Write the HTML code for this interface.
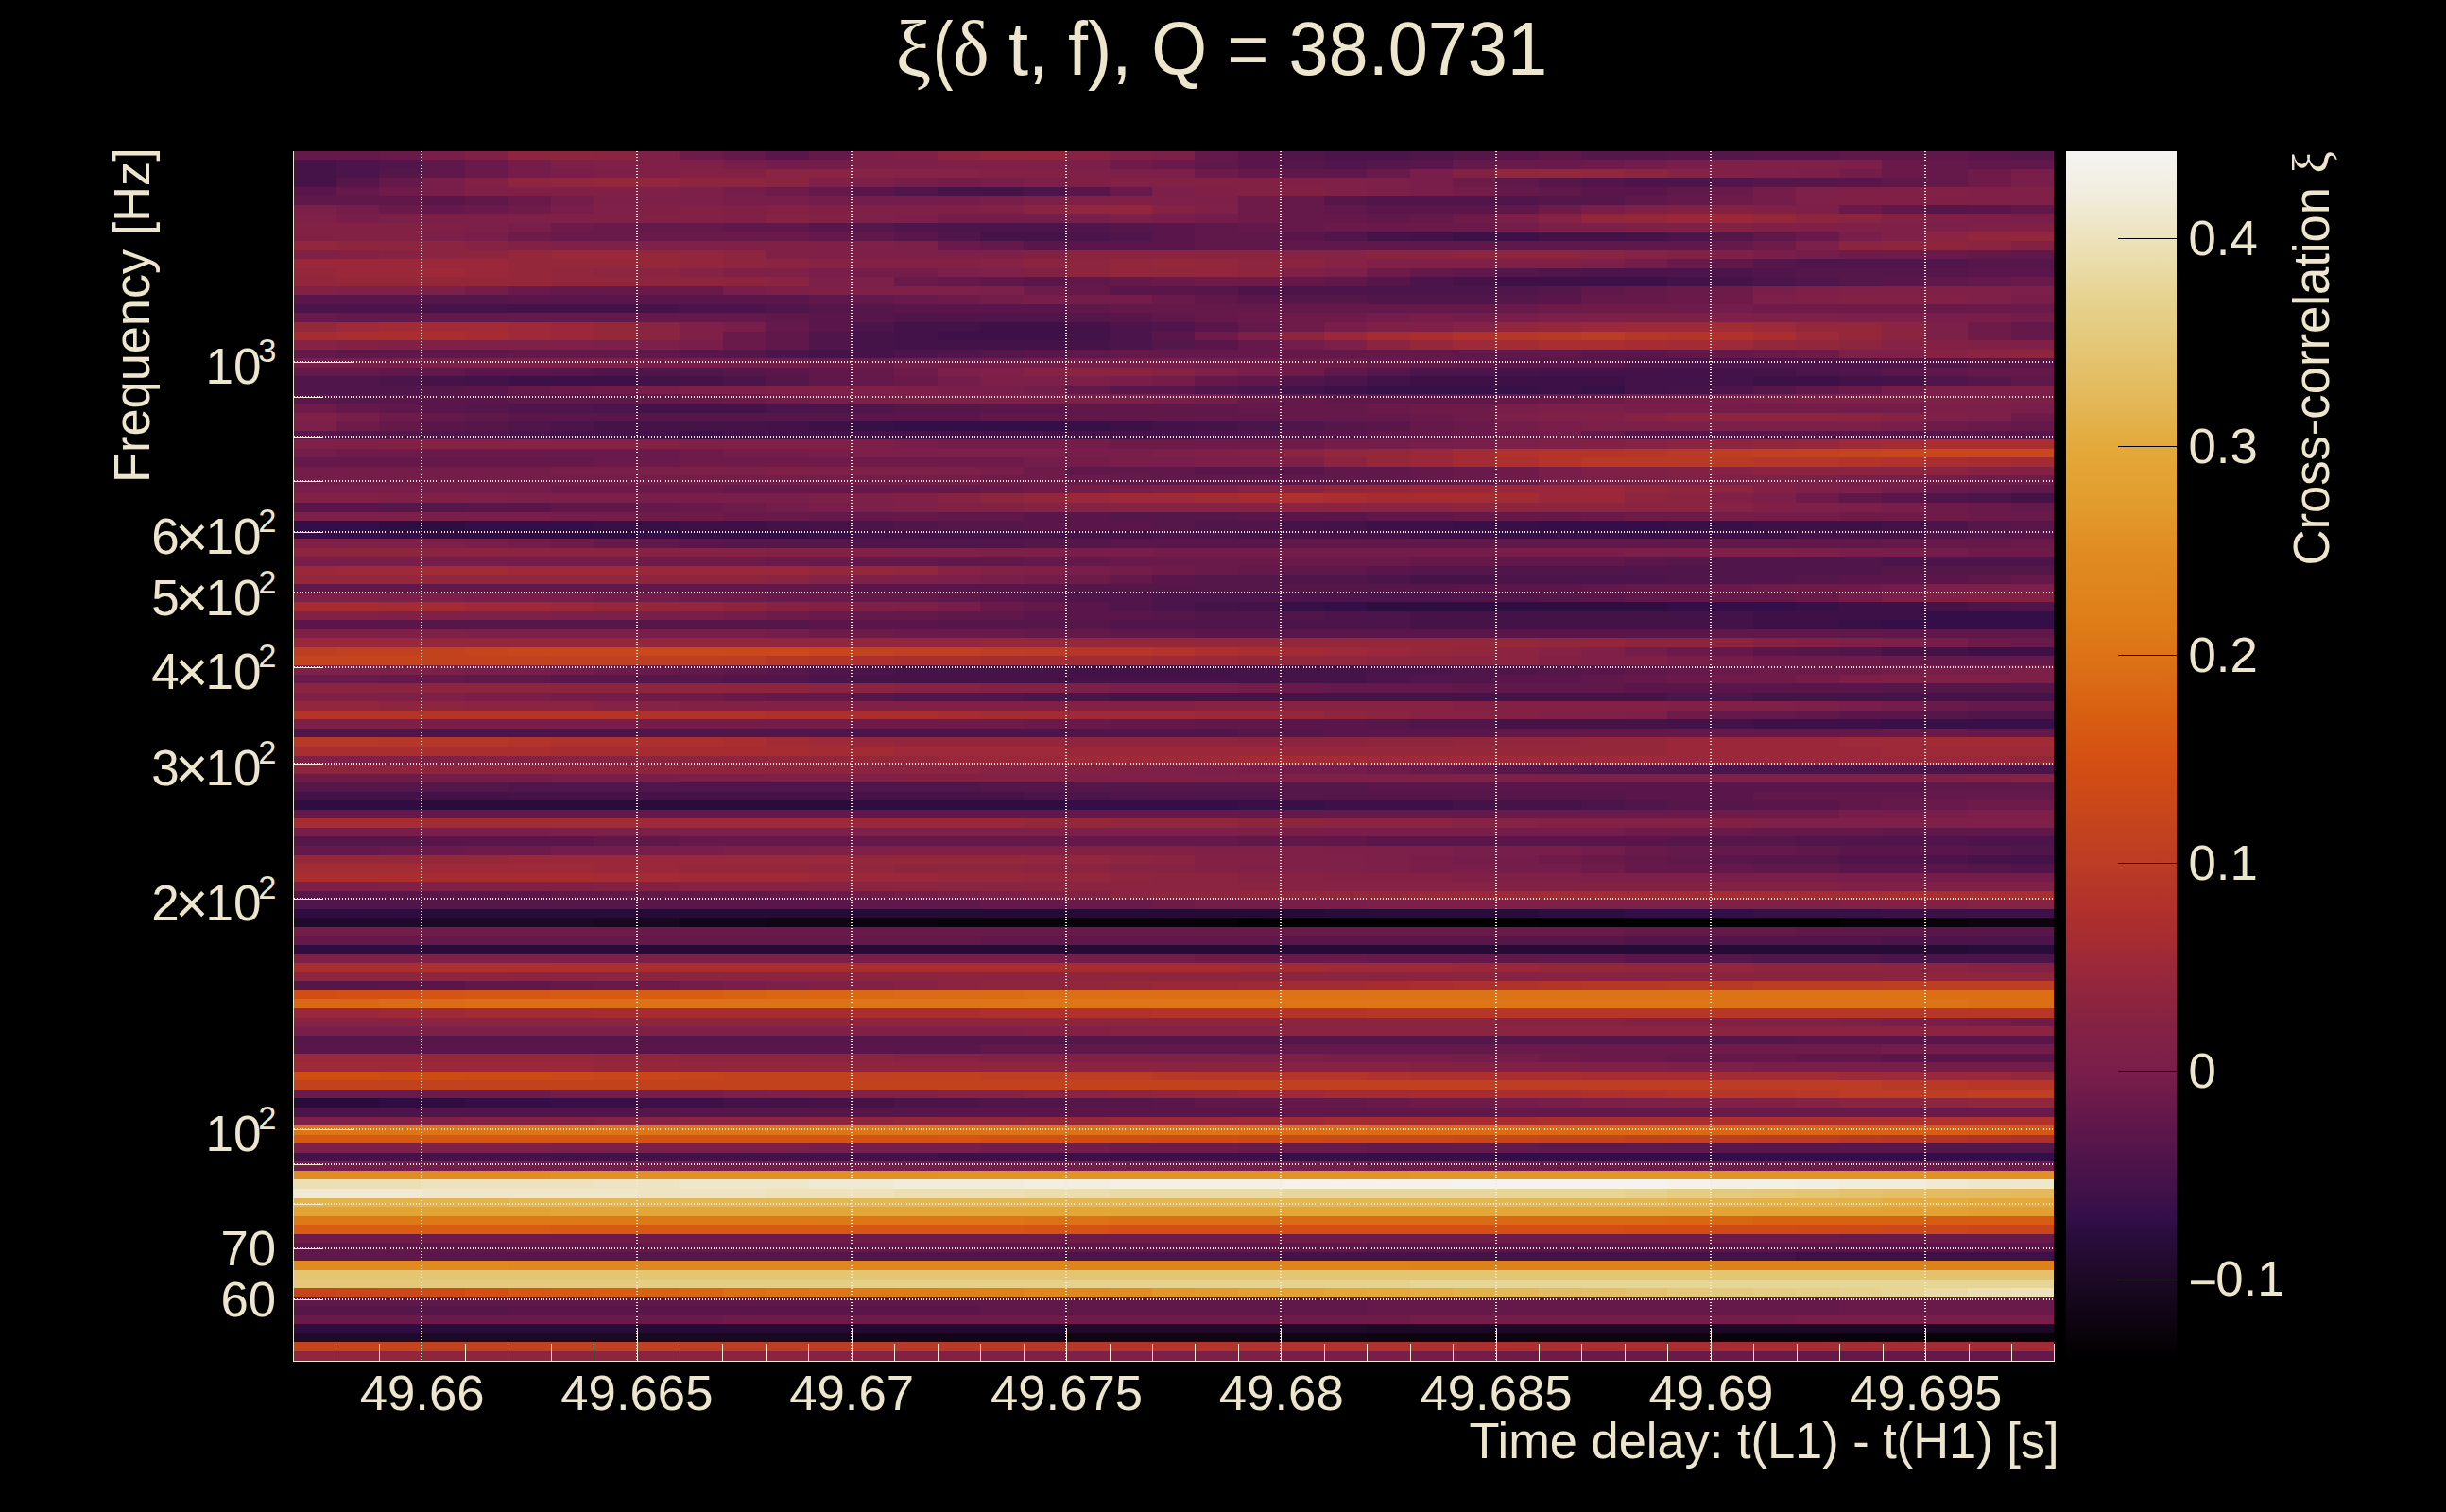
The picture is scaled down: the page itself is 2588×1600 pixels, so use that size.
<!DOCTYPE html><html><head><meta charset="utf-8"><title>xi(dt,f)</title>
<style>html,body{margin:0;padding:0;background:#000;}body{width:2588px;height:1600px;overflow:hidden;}svg{display:block;}text{font-family:"Liberation Sans",sans-serif;fill:#ede6cc;}.s{font-family:"Liberation Serif",serif;}</style></head><body>
<svg width="2588" height="1600" viewBox="0 0 2588 1600">
<rect width="2588" height="1600" fill="#000"/>
<g shape-rendering="crispEdges">
<path fill="#65184a" d="M310 160h91v9h-91zM765 160h45v9h-45zM856 160h45v9h-45zM1264 160h46v9h-46zM1537 169h45v10h-45zM2037 169h45v10h-45zM1310 179h45v9h-45zM2037 179h45v9h-45zM401 188h46v10h-46zM2037 188h45v10h-45zM356 198h45v9h-45zM856 198h45v9h-45zM1582 198h46v9h-46zM1355 207h46v10h-46zM1764 207h46v10h-46zM447 217h45v9h-45zM1355 217h46v9h-46zM1355 226h91v10h-91zM1492 226h45v10h-45zM674 236h91v9h-91zM1310 236h91v9h-91zM856 245h45v10h-45zM1037 255h46v10h-46zM1810 255h45v10h-45zM2082 265h46v9h-46zM1492 284h45v9h-45zM992 293h45v10h-45zM1174 293h45v10h-45zM1355 293h46v10h-46zM2082 293h46v10h-46zM583 303h91v9h-91zM1128 303h46v9h-46zM1719 303h45v9h-45zM901 312h45v10h-45zM1673 312h91v10h-91zM1174 322h408v9h-408zM356 331h454v10h-454zM1264 331h46v10h-46zM810 341h46v10h-46zM1310 341h45v10h-45zM2128 341h45v10h-45zM2128 351h45v9h-45zM1310 360h45v10h-45zM310 370h46v9h-46zM538 370h136v9h-136zM1174 370h363v9h-363zM1810 370h45v9h-45zM1492 379h45v10h-45zM310 389h91v9h-91zM901 389h45v9h-45zM2082 389h91v9h-91zM901 398h45v10h-45zM1264 398h46v10h-46zM538 408h45v9h-45zM1128 408h46v9h-46zM674 417h45v10h-45zM1355 417h46v10h-46zM1582 417h46v10h-46zM356 427h45v10h-45zM1310 427h136v10h-136zM447 437h45v9h-45zM1355 437h137v9h-137zM401 446h46v10h-46zM1492 446h45v10h-45zM2128 446h45v10h-45zM1492 456h45v9h-45zM1673 456h46v9h-46zM310 484h318v10h-318zM1492 494h45v9h-45zM1174 503h45v10h-45zM1492 503h45v10h-45zM765 513h272v9h-272zM2082 513h46v9h-46zM674 532h45v10h-45zM2128 532h45v10h-45zM856 542h136v9h-136zM1537 542h136v9h-136zM628 570h46v10h-46zM1991 570h137v10h-137zM901 589h91v10h-91zM1083 589h91v10h-91zM1492 589h90v10h-90zM1310 599h45v9h-45zM1174 608h45v10h-45zM2128 608h45v10h-45zM1719 618h91v10h-91zM901 628h91v9h-91zM1810 628h90v9h-90zM1083 637h45v10h-45zM901 647h91v9h-91zM1083 666h91v9h-91zM1810 685h45v9h-45zM2037 694h136v10h-136zM719 704h46v10h-46zM1764 704h46v10h-46zM401 714h91v9h-91zM1719 714h45v9h-45zM1401 723h136v10h-136zM810 733h91v9h-91zM2082 742h91v10h-91zM1810 752h90v9h-90zM1174 761h90v10h-90zM1582 771h409v9h-409zM2082 771h91v9h-91zM1537 809h45v10h-45zM2037 838h136v9h-136zM1991 847h46v10h-46zM310 857h591v9h-591zM1128 857h454v9h-454zM1855 876h136v9h-136zM719 885h591v10h-591zM310 895h91v10h-91zM1764 895h136v10h-136zM1719 905h45v9h-45zM1719 914h136v10h-136zM810 943h46v9h-46zM1037 952h91v10h-91zM1719 981h181v10h-181zM310 991h727v9h-727zM1446 1010h136v9h-136zM583 1038h45v10h-45zM1355 1105h227v10h-227zM1764 1115h136v9h-136zM1355 1162h91v10h-91zM1582 1172h228v10h-228zM1446 1210h182v10h-182zM538 1315h499v10h-499zM1446 1373h500v9h-500zM1446 1382h500v10h-500zM1900 1430h273v10h-273z"/>
<path fill="#6a1a4a" d="M401 160h46v9h-46zM492 169h46v10h-46zM1219 169h45v10h-45zM1582 169h91v10h-91zM1991 169h46v10h-46zM492 179h46v9h-46zM1446 179h46v9h-46zM1991 179h46v9h-46zM1174 198h45v9h-45zM1810 198h45v9h-45zM538 207h45v10h-45zM401 217h46v9h-46zM492 217h46v9h-46zM1946 217h45v9h-45zM628 236h46v9h-46zM1401 236h181v9h-181zM583 245h273v10h-273zM1900 245h46v10h-46zM992 255h45v10h-45zM2037 265h45v9h-45zM1764 274h46v10h-46zM946 293h46v10h-46zM1219 293h45v10h-45zM2128 293h45v10h-45zM538 303h45v9h-45zM674 303h91v9h-91zM1764 303h46v9h-46zM946 312h46v10h-46zM1219 312h45v10h-45zM1764 312h46v10h-46zM1582 322h46v9h-46zM2037 322h136v9h-136zM310 331h46v10h-46zM1310 331h45v10h-45zM765 351h45v9h-45zM765 360h45v10h-45zM1855 370h45v9h-45zM1446 379h46v10h-46zM946 398h46v10h-46zM583 408h45v9h-45zM1946 408h45v9h-45zM719 417h46v10h-46zM1310 417h45v10h-45zM1628 417h45v10h-45zM1446 427h46v10h-46zM1492 437h45v9h-45zM1537 446h45v10h-45zM2082 446h46v10h-46zM1537 456h45v9h-45zM447 475h272v9h-272zM628 484h91v10h-91zM1537 494h45v9h-45zM1128 503h46v10h-46zM1537 503h45v10h-45zM674 513h91v9h-91zM1037 513h46v9h-46zM2037 513h45v9h-45zM719 532h46v10h-46zM2082 532h46v10h-46zM765 542h91v9h-91zM1673 542h46v9h-46zM2082 542h91v9h-91zM2128 570h45v10h-45zM810 589h91v10h-91zM1174 589h318v10h-318zM1264 599h46v9h-46zM1810 618h45v10h-45zM810 628h91v9h-91zM1900 628h46v9h-46zM1037 637h46v10h-46zM856 647h45v9h-45zM946 666h137v9h-137zM2128 675h45v10h-45zM1764 685h46v9h-46zM1991 694h46v10h-46zM674 704h45v10h-45zM1810 704h45v10h-45zM310 714h91v9h-91zM1764 714h46v9h-46zM1355 723h46v10h-46zM765 733h45v9h-45zM2037 742h45v10h-45zM1083 761h91v10h-91zM1991 771h91v9h-91zM1492 809h45v10h-45zM2037 847h45v10h-45zM1582 857h228v9h-228zM1810 876h45v9h-45zM401 895h91v10h-91zM1719 895h45v10h-45zM1673 905h46v9h-46zM856 943h45v9h-45zM1128 952h91v10h-91zM674 981h1045v10h-1045zM1355 1010h91v9h-91zM628 1038h46v10h-46zM1582 1105h228v10h-228zM1673 1115h91v9h-91zM310 1153h137v9h-137zM1446 1162h46v10h-46zM1810 1172h363v10h-363zM1310 1210h136v10h-136zM1946 1306h227v9h-227zM1946 1373h227v9h-227zM1946 1382h227v10h-227zM310 1392h455v9h-455zM1673 1430h227v10h-227z"/>
<path fill="#791e4a" d="M447 160h45v9h-45zM765 169h45v10h-45zM1764 169h46v10h-46zM583 179h45v9h-45zM1492 179h45v9h-45zM2128 179h45v9h-45zM447 188h45v10h-45zM946 188h46v10h-46zM1037 188h46v10h-46zM1492 188h45v10h-45zM2128 188h45v10h-45zM447 198h45v9h-45zM1492 198h45v9h-45zM765 207h91v10h-91zM1037 207h46v10h-46zM583 217h45v9h-45zM1673 217h46v9h-46zM356 226h45v10h-45zM1128 226h46v10h-46zM1219 226h45v10h-45zM2128 226h45v10h-45zM538 236h45v9h-45zM492 245h46v10h-46zM1946 245h45v10h-45zM1855 265h45v9h-45zM856 284h45v9h-45zM765 303h45v9h-45zM1855 303h45v9h-45zM1083 312h45v10h-45zM2128 312h45v10h-45zM1492 331h45v10h-45zM1582 331h46v10h-46zM2037 331h91v10h-91zM765 341h45v10h-45zM1401 341h45v10h-45zM719 360h46v10h-46zM310 379h137v10h-137zM674 379h91v10h-91zM1128 379h136v10h-136zM1310 389h45v9h-45zM1174 398h45v10h-45zM674 408h45v9h-45zM992 408h91v9h-91zM856 417h45v10h-45zM1219 417h45v10h-45zM1810 417h45v10h-45zM1582 427h46v10h-46zM1719 427h91v10h-91zM2128 427h45v10h-45zM356 437h45v9h-45zM1628 446h45v10h-45zM1991 446h46v10h-46zM946 465h46v10h-46zM1492 465h90v10h-90zM856 475h45v9h-45zM1128 475h91v9h-91zM1174 484h90v10h-90zM583 494h91v9h-91zM1037 494h46v9h-46zM1628 494h45v9h-45zM1628 503h45v10h-45zM1946 503h91v10h-91zM310 513h137v9h-137zM1174 513h45v9h-45zM674 522h182v10h-182zM856 532h45v10h-45zM1991 532h46v10h-46zM447 542h136v9h-136zM492 570h46v10h-46zM1128 580h91v9h-91zM1582 580h137v9h-137zM1946 580h91v9h-91zM310 589h137v10h-137zM1128 599h46v9h-46zM1037 608h46v10h-46zM492 628h136v9h-136zM992 637h45v10h-45zM674 647h91v9h-91zM674 666h136v9h-136zM2037 675h45v10h-45zM1764 694h46v10h-46zM492 704h91v10h-91zM2037 704h91v10h-91zM1174 723h136v10h-136zM492 733h91v9h-91zM1946 742h45v10h-45zM447 761h227v10h-227zM1310 809h45v10h-45zM583 819h136v9h-136zM1946 857h136v9h-136zM310 876h273v9h-273zM1355 876h227v9h-227zM674 895h91v10h-91zM1537 895h136v10h-136zM1492 905h45v9h-45zM1492 914h90v10h-90zM1810 924h227v9h-227zM992 943h45v9h-45zM1355 952h91v10h-91zM901 1010h227v9h-227zM765 1038h45v10h-45zM1991 1077h91v9h-91zM310 1086h137v10h-137zM1401 1115h136v9h-136zM1855 1124h182v10h-182zM674 1153h91v9h-91zM1628 1162h45v10h-45zM856 1210h181v10h-181zM1900 1392h273v9h-273zM1355 1430h137v10h-137z"/>
<path fill="#802046" d="M492 160h46v9h-46zM946 160h46v9h-46zM674 169h45v10h-45zM1037 169h46v10h-46zM674 179h45v9h-45zM1810 179h45v9h-45zM856 188h45v10h-45zM1128 188h46v10h-46zM1355 188h46v10h-46zM538 198h136v9h-136zM1264 198h46v9h-46zM1946 198h91v9h-91zM2082 198h91v9h-91zM1174 207h45v10h-45zM1946 207h136v10h-136zM674 217h45v9h-45zM765 217h45v9h-45zM856 217h45v9h-45zM992 217h45v9h-45zM1855 217h45v9h-45zM628 226h46v10h-46zM765 226h45v10h-45zM447 236h45v9h-45zM1764 236h46v9h-46zM1855 236h91v9h-91zM2128 236h45v9h-45zM583 255h45v10h-45zM765 255h136v10h-136zM810 265h46v9h-46zM1810 265h45v9h-45zM1446 274h227v10h-227zM765 284h45v9h-45zM1355 284h46v9h-46zM356 303h45v9h-45zM1991 303h91v9h-91zM1900 312h46v10h-46zM1492 341h45v10h-45zM401 360h46v10h-46zM2082 360h46v10h-46zM1673 437h46v9h-46zM356 465h45v10h-45zM719 465h182v10h-182zM1264 475h46v9h-46zM810 494h46v9h-46zM1719 494h45v9h-45zM1264 513h46v9h-46zM401 522h91v10h-91zM946 522h46v10h-46zM1810 522h45v10h-45zM1855 532h45v10h-45zM310 570h46v10h-46zM901 580h45v9h-45zM1083 599h45v9h-45zM901 608h45v10h-45zM2037 628h45v9h-45zM401 647h91v9h-91zM310 666h91v9h-91zM1673 694h46v10h-46zM901 742h227v10h-227zM1764 742h91v10h-91zM1628 752h45v9h-45zM401 800h91v9h-91zM1174 809h45v10h-45zM901 819h45v9h-45zM1128 819h227v9h-227zM1991 819h91v9h-91zM946 895h182v10h-182zM1355 905h46v9h-46zM1310 914h45v10h-45zM1537 924h45v9h-45zM492 933h136v10h-136zM1946 933h91v10h-91zM1083 943h45v9h-45zM1810 952h136v10h-136zM856 1038h45v10h-45zM1810 1077h45v9h-45zM901 1086h182v10h-182zM1128 1115h91v9h-91zM1582 1124h91v10h-91zM856 1153h45v9h-45zM1810 1162h45v10h-45zM401 1182h91v9h-91zM1037 1430h91v10h-91z"/>
<path fill="#8e253f" d="M538 160h90v9h-90zM1719 179h45v9h-45zM538 188h45v10h-45zM719 188h91v10h-91zM1900 226h46v10h-46zM356 255h91v10h-91zM1991 255h91v10h-91zM492 265h46v9h-46zM765 265h45v9h-45zM1537 265h136v9h-136zM765 274h45v10h-45zM1128 274h46v10h-46zM1310 274h45v10h-45zM628 284h46v9h-46zM1128 284h46v9h-46zM1310 284h45v9h-45zM674 293h136v10h-136zM1355 351h46v9h-46zM1946 360h45v10h-45zM2128 370h45v9h-45zM1810 437h136v9h-136zM1810 465h45v10h-45zM1764 513h91v9h-91zM1037 522h46v10h-46zM1719 522h45v10h-45zM1537 532h182v10h-182zM310 580h137v9h-137zM674 608h136v10h-136zM765 637h45v10h-45zM1719 675h136v10h-136zM1446 694h91v10h-91zM447 723h409v10h-409zM401 742h91v10h-91zM1401 752h45v9h-45zM1128 780h182v10h-182zM1446 780h91v10h-91zM765 800h45v9h-45zM310 809h591v10h-591zM1310 866h91v10h-91zM1174 905h45v9h-45zM946 914h137v10h-137zM1174 924h45v9h-45zM1219 943h91v9h-91zM1855 1019h136v10h-136zM310 1029h228v9h-228zM1128 1029h227v9h-227zM2037 1029h136v9h-136zM1037 1038h91v10h-91zM674 1077h681v9h-681zM719 1115h137v9h-137zM901 1124h227v10h-227zM1174 1153h45v9h-45zM2037 1162h45v10h-45zM856 1182h90v9h-90zM447 1430h227v10h-227z"/>
<path fill="#8a2441" d="M628 160h46v9h-46zM992 160h45v9h-45zM810 179h91v9h-91zM810 188h46v10h-46zM1083 217h45v9h-45zM1946 226h45v10h-45zM2037 245h45v10h-45zM447 255h45v10h-45zM1946 255h45v10h-45zM2082 255h46v10h-46zM447 265h45v9h-45zM1128 265h227v9h-227zM1446 265h91v9h-91zM1673 265h46v9h-46zM810 274h46v10h-46zM1083 274h45v10h-45zM1355 274h46v10h-46zM674 284h45v9h-45zM810 293h46v10h-46zM674 341h45v10h-45zM1991 341h46v10h-46zM674 351h45v9h-45zM1991 351h46v9h-46zM1446 360h46v10h-46zM2082 370h46v9h-46zM1128 389h91v9h-91zM1764 437h46v9h-46zM1946 437h45v9h-45zM1764 465h46v10h-46zM1355 475h46v9h-46zM1401 484h45v10h-45zM1855 494h227v9h-227zM1355 513h46v9h-46zM1764 522h46v10h-46zM1355 532h182v10h-182zM1719 532h91v10h-91zM447 580h227v9h-227zM810 608h46v10h-46zM1582 685h46v9h-46zM1537 694h91v10h-91zM310 723h137v10h-137zM856 723h90v10h-90zM492 742h136v10h-136zM1446 752h46v9h-46zM1310 780h136v10h-136zM674 800h91v9h-91zM901 809h136v10h-136zM1401 866h136v10h-136zM1219 905h45v9h-45zM1083 914h91v10h-91zM1219 924h91v9h-91zM901 933h454v10h-454zM1174 943h45v9h-45zM1991 1019h91v10h-91zM538 1029h590v9h-590zM1355 1029h227v9h-227zM1810 1029h227v9h-227zM992 1038h45v10h-45zM447 1077h227v9h-227zM1355 1077h227v9h-227zM1355 1086h818v10h-818zM856 1115h90v9h-90zM1128 1124h227v10h-227zM1083 1153h91v9h-91zM1946 1162h91v10h-91zM719 1182h137v9h-137zM674 1430h182v10h-182z"/>
<path fill="#7e2048" d="M674 160h45v9h-45zM1174 160h45v9h-45zM628 169h46v10h-46zM719 169h46v10h-46zM992 169h45v10h-45zM1083 169h45v10h-45zM1810 169h136v10h-136zM1128 179h46v9h-46zM1855 179h45v9h-45zM1401 188h45v10h-45zM492 198h46v9h-46zM674 198h45v9h-45zM1401 198h45v9h-45zM1900 198h46v9h-46zM1128 207h46v10h-46zM1219 207h45v10h-45zM1900 207h46v10h-46zM2082 207h91v10h-91zM628 217h46v9h-46zM901 217h91v9h-91zM1264 217h46v9h-46zM1719 217h45v9h-45zM310 226h46v10h-46zM538 226h90v10h-90zM901 226h45v10h-45zM2037 226h45v10h-45zM1719 236h45v9h-45zM1946 236h91v9h-91zM2082 236h46v9h-46zM1991 245h46v10h-46zM628 255h137v10h-137zM901 255h45v10h-45zM310 265h46v9h-46zM856 265h45v9h-45zM1037 265h46v9h-46zM810 284h46v9h-46zM1037 284h46v9h-46zM401 303h46v9h-46zM856 303h181v9h-181zM1946 303h45v9h-45zM2082 303h46v9h-46zM2082 312h46v10h-46zM1810 331h136v10h-136zM719 341h46v10h-46zM1446 341h46v10h-46zM719 351h46v9h-46zM447 360h181v10h-181zM2128 360h45v10h-45zM1991 370h46v9h-46zM1037 389h46v9h-46zM1264 389h46v9h-46zM810 408h136v9h-136zM946 417h182v10h-182zM1900 417h228v10h-228zM310 437h46v9h-46zM1628 437h45v9h-45zM2037 437h45v9h-45zM310 465h46v10h-46zM1628 465h45v10h-45zM1355 484h46v10h-46zM856 494h136v9h-136zM1673 494h46v9h-46zM1764 503h136v10h-136zM1900 513h46v9h-46zM492 522h46v10h-46zM946 532h46v10h-46zM1900 532h46v10h-46zM356 570h91v10h-91zM946 580h91v9h-91zM1810 580h90v9h-90zM946 608h46v10h-46zM310 628h91v9h-91zM901 637h45v10h-45zM492 647h91v9h-91zM401 666h91v9h-91zM1946 675h45v10h-45zM1673 685h46v9h-46zM1719 694h45v10h-45zM310 704h91v10h-91zM1991 714h137v9h-137zM310 733h91v9h-91zM1855 742h45v10h-45zM1673 752h46v9h-46zM310 800h91v9h-91zM1219 809h45v10h-45zM810 819h91v9h-91zM1355 819h227v9h-227zM1810 819h181v9h-181zM1855 866h318v10h-318zM901 876h227v9h-227zM856 895h90v10h-90zM1264 895h137v10h-137zM1401 905h45v9h-45zM1355 914h91v10h-91zM1582 924h91v9h-91zM401 933h91v10h-91zM2037 933h136v10h-136zM1582 952h228v10h-228zM310 1010h273v9h-273zM1855 1077h91v9h-91zM674 1086h227v10h-227zM1219 1115h91v9h-91zM1673 1124h91v10h-91zM810 1153h46v9h-46zM1719 1162h91v10h-91zM310 1182h91v9h-91zM310 1210h273v10h-273zM1128 1430h91v10h-91z"/>
<path fill="#6f1b4a" d="M719 160h46v9h-46zM1174 169h45v10h-45zM1673 169h46v10h-46zM1264 179h46v9h-46zM2082 179h46v9h-46zM1537 188h45v10h-45zM2082 188h46v10h-46zM401 198h46v9h-46zM810 198h46v9h-46zM1310 207h45v10h-45zM1810 207h45v10h-45zM538 217h45v9h-45zM1310 217h45v9h-45zM1628 217h45v9h-45zM1310 226h45v10h-45zM1537 226h45v10h-45zM583 236h45v9h-45zM538 245h45v10h-45zM1855 255h45v10h-45zM1946 265h91v9h-91zM1446 284h46v9h-46zM1264 293h91v10h-91zM1083 303h45v9h-45zM1810 303h45v9h-45zM992 312h45v10h-45zM1810 312h45v10h-45zM1628 322h182v9h-182zM1855 322h182v9h-182zM1355 331h91v10h-91zM1355 341h46v10h-46zM2082 341h46v10h-46zM1264 351h46v9h-46zM2082 351h46v9h-46zM1900 370h46v9h-46zM856 379h90v10h-90zM1355 379h91v10h-91zM946 389h46v9h-46zM1355 389h46v9h-46zM628 408h46v9h-46zM765 417h45v10h-45zM1673 417h46v10h-46zM310 427h46v10h-46zM1492 427h90v10h-90zM401 437h46v9h-46zM1537 437h45v9h-45zM2128 437h45v9h-45zM356 446h45v10h-45zM2037 446h45v10h-45zM1582 456h46v9h-46zM1174 465h227v10h-227zM356 475h91v9h-91zM719 475h46v9h-46zM719 484h364v10h-364zM1083 494h45v9h-45zM1582 494h46v9h-46zM1037 503h91v10h-91zM1582 503h46v10h-46zM2082 503h91v10h-91zM583 513h91v9h-91zM1083 513h45v9h-45zM1900 522h46v10h-46zM765 532h45v10h-45zM2037 532h45v10h-45zM674 542h91v9h-91zM1719 542h91v9h-91zM1946 542h136v9h-136zM583 570h45v10h-45zM2082 580h91v9h-91zM674 589h136v10h-136zM1219 599h45v9h-45zM1128 608h46v10h-46zM1855 618h136v10h-136zM719 628h91v9h-91zM810 647h46v9h-46zM856 666h90v9h-90zM2082 675h46v10h-46zM1855 694h136v10h-136zM628 704h46v10h-46zM1855 704h136v10h-136zM1810 714h90v9h-90zM674 733h91v9h-91zM1764 752h46v9h-46zM901 761h182v10h-182zM1446 809h46v10h-46zM310 819h137v9h-137zM2082 847h91v10h-91zM1810 857h136v9h-136zM1719 876h91v9h-91zM492 895h91v10h-91zM1628 905h45v9h-45zM1673 914h46v10h-46zM901 943h45v9h-45zM1219 952h45v10h-45zM447 981h227v10h-227zM1264 1010h91v9h-91zM674 1038h45v10h-45zM2128 1077h45v9h-45zM1810 1105h181v10h-181zM1628 1115h45v9h-45zM447 1153h136v9h-136zM1492 1162h90v10h-90zM1174 1210h136v10h-136zM1446 1229h727v10h-727zM310 1306h1636v9h-1636zM765 1392h727v9h-727zM1582 1430h91v10h-91z"/>
<path fill="#5a164a" d="M810 160h46v9h-46zM1310 160h45v9h-45zM1582 160h46v9h-46zM1764 160h46v9h-46zM1855 160h91v9h-91zM2082 160h46v9h-46zM1310 169h45v10h-45zM1492 169h45v10h-45zM1946 188h45v10h-45zM310 198h46v9h-46zM901 198h45v9h-45zM1128 198h46v9h-46zM1673 198h91v9h-91zM447 207h45v10h-45zM1446 217h136v9h-136zM2082 217h46v9h-46zM856 236h45v9h-45zM1219 236h45v9h-45zM946 245h46v10h-46zM1219 245h45v10h-45zM1355 245h46v10h-46zM1083 255h181v10h-181zM2082 284h91v9h-91zM1083 293h45v10h-45zM1991 293h46v10h-46zM1174 303h90v9h-90zM310 312h137v10h-137zM538 312h318v10h-318zM1310 312h45v10h-45zM1628 312h45v10h-45zM946 322h182v9h-182zM856 331h45v10h-45zM1174 331h45v10h-45zM856 341h45v10h-45zM1264 341h46v10h-46zM1219 351h45v9h-45zM1264 360h46v10h-46zM719 370h46v9h-46zM1083 370h45v9h-45zM1673 370h91v9h-91zM1582 379h137v10h-137zM2128 379h45v10h-45zM492 389h91v9h-91zM810 389h46v9h-46zM1991 389h46v9h-46zM492 408h46v9h-46zM1174 408h90v9h-90zM310 417h46v10h-46zM401 417h137v10h-137zM447 427h45v10h-45zM1037 427h91v10h-91zM538 437h136v9h-136zM901 437h136v9h-136zM447 446h45v10h-45zM1446 446h46v10h-46zM310 456h46v9h-46zM1401 456h45v9h-45zM1719 456h454v9h-454zM1264 494h137v9h-137zM1991 522h46v10h-46zM310 532h91v10h-91zM492 532h91v10h-91zM1083 542h91v9h-91zM1310 542h136v9h-136zM1083 551h136v10h-136zM2128 551h45v10h-45zM2128 561h45v9h-45zM719 570h46v10h-46zM1174 570h181v10h-181zM1719 589h45v10h-45zM1446 599h46v9h-46zM1219 608h45v10h-45zM1946 608h136v10h-136zM901 618h227v10h-227zM1537 618h136v10h-136zM1037 628h46v9h-46zM1673 628h46v9h-46zM1128 637h46v10h-46zM1083 647h136v9h-136zM310 656h137v10h-137zM856 656h136v10h-136zM1264 666h546v9h-546zM1855 685h45v9h-45zM810 704h46v10h-46zM1673 704h46v10h-46zM583 714h91v9h-91zM1582 714h91v9h-91zM1719 723h272v10h-272zM1946 752h91v9h-91zM1355 761h91v10h-91zM1401 771h181v9h-181zM1582 809h46v10h-46zM1446 828h591v10h-591zM1719 838h136v9h-136zM1855 847h91v10h-91zM447 885h181v10h-181zM1446 885h318v10h-318zM1946 895h136v10h-136zM1810 905h45v9h-45zM1946 914h136v10h-136zM310 943h273v9h-273zM674 952h227v10h-227zM2037 981h136v10h-136zM1355 991h227v9h-227zM1719 1010h91v9h-91zM401 1038h91v10h-91zM1900 1096h273v9h-273zM310 1105h727v10h-727zM1991 1115h182v9h-182zM1219 1162h45v10h-45zM992 1172h363v10h-363zM1810 1210h227v10h-227zM1446 1315h727v10h-727zM447 1325h227v9h-227zM538 1382h499v10h-499z"/>
<path fill="#7c1f49" d="M901 160h45v9h-45zM1219 160h45v9h-45zM583 169h45v10h-45zM901 169h91v10h-91zM1128 169h46v10h-46zM1946 169h45v10h-45zM628 179h46v9h-46zM1174 179h90v9h-90zM1900 179h46v9h-46zM901 188h45v10h-45zM1083 188h45v10h-45zM1446 188h46v10h-46zM719 198h46v9h-46zM1219 198h45v9h-45zM1446 198h46v9h-46zM628 207h137v10h-137zM1083 207h45v10h-45zM1264 207h46v10h-46zM310 217h46v9h-46zM1900 217h46v9h-46zM401 226h137v10h-137zM946 226h46v10h-46zM1174 226h45v10h-45zM1582 226h46v10h-46zM2082 226h46v10h-46zM492 236h46v9h-46zM1628 236h91v9h-91zM2037 236h45v9h-45zM447 245h45v10h-45zM946 255h46v10h-46zM1900 255h46v10h-46zM901 265h136v9h-136zM1673 274h46v10h-46zM992 284h45v9h-45zM1401 284h45v9h-45zM856 293h90v10h-90zM447 303h45v9h-45zM810 303h46v9h-46zM1037 303h46v9h-46zM1900 303h46v9h-46zM2128 303h45v9h-45zM1855 312h45v10h-45zM1628 331h182v10h-182zM1946 331h91v10h-91zM2037 341h45v10h-45zM1310 351h45v9h-45zM2037 351h45v9h-45zM628 360h91v10h-91zM1401 360h45v10h-45zM1946 370h45v9h-45zM447 379h227v10h-227zM992 389h45v9h-45zM1037 398h137v10h-137zM719 408h91v9h-91zM946 408h46v9h-46zM2037 408h136v9h-136zM901 417h45v10h-45zM1128 417h91v10h-91zM1855 417h45v10h-45zM2128 417h45v10h-45zM1628 427h91v10h-91zM2037 427h91v10h-91zM1582 437h46v9h-46zM2082 437h46v9h-46zM310 446h46v10h-46zM1673 446h318v10h-318zM901 465h45v10h-45zM1582 465h46v10h-46zM901 475h227v9h-227zM1219 475h45v9h-45zM1264 484h91v10h-91zM674 494h136v9h-136zM992 494h45v9h-45zM1673 503h91v10h-91zM1900 503h46v10h-46zM1219 513h45v9h-45zM1946 513h45v9h-45zM538 522h136v10h-136zM856 522h90v10h-90zM1855 522h45v10h-45zM901 532h45v10h-45zM1946 532h45v10h-45zM310 542h137v9h-137zM447 570h45v10h-45zM1037 580h91v9h-91zM1719 580h91v9h-91zM1900 580h46v9h-46zM992 608h45v10h-45zM2037 618h136v10h-136zM401 628h91v9h-91zM1991 628h46v9h-46zM946 637h46v10h-46zM583 647h91v9h-91zM492 666h182v9h-182zM1991 675h46v10h-46zM401 704h91v10h-91zM2128 704h45v10h-45zM1946 714h45v9h-45zM2128 714h45v9h-45zM1128 723h46v10h-46zM401 733h91v9h-91zM1900 742h46v10h-46zM1719 752h45v9h-45zM310 761h137v10h-137zM1264 809h46v10h-46zM719 819h91v9h-91zM1582 819h228v9h-228zM2082 857h91v9h-91zM583 876h318v9h-318zM1128 876h227v9h-227zM765 895h91v10h-91zM1401 895h136v10h-136zM1446 905h46v9h-46zM1446 914h46v10h-46zM1673 924h137v9h-137zM310 933h91v10h-91zM1037 943h46v9h-46zM1446 952h136v10h-136zM583 1010h318v9h-318zM810 1038h46v10h-46zM1946 1077h45v9h-45zM447 1086h227v10h-227zM1310 1115h91v9h-91zM1764 1124h91v10h-91zM765 1153h45v9h-45zM1673 1162h46v10h-46zM583 1210h273v10h-273zM1219 1430h136v10h-136z"/>
<path fill="#91263d" d="M1037 160h91v9h-91zM1582 179h46v9h-46zM1673 179h46v9h-46zM583 188h45v10h-45zM674 188h45v10h-45zM1128 217h91v9h-91zM1673 226h46v10h-46zM2082 245h91v10h-91zM310 255h46v10h-46zM719 265h46v9h-46zM719 274h46v10h-46zM1174 274h45v10h-45zM1264 274h46v10h-46zM583 284h45v9h-45zM1174 284h136v9h-136zM310 293h46v10h-46zM583 293h91v10h-91zM1582 341h46v10h-46zM1900 360h46v10h-46zM1855 465h45v10h-45zM1401 475h45v9h-45zM1401 513h45v9h-45zM1719 513h45v9h-45zM1083 522h45v10h-45zM946 599h46v9h-46zM447 608h227v10h-227zM719 637h46v10h-46zM674 675h363v10h-363zM1628 675h91v10h-91zM1537 685h45v9h-45zM1355 694h91v10h-91zM310 742h91v10h-91zM946 780h182v10h-182zM1537 780h136v10h-136zM810 800h91v9h-91zM1174 866h136v10h-136zM1083 905h91v9h-91zM856 914h90v10h-90zM1083 924h91v9h-91zM1310 943h91v9h-91zM1719 1019h136v10h-136zM1128 1038h46v10h-46zM628 1115h91v9h-91zM719 1124h182v10h-182zM1219 1153h45v9h-45zM2082 1162h91v10h-91zM946 1182h137v9h-137zM310 1430h137v10h-137z"/>
<path fill="#862243" d="M1128 160h46v9h-46zM901 179h136v9h-136zM1764 179h46v9h-46zM1219 217h45v9h-45zM810 226h46v10h-46zM1628 226h45v10h-45zM492 255h46v10h-46zM401 265h46v9h-46zM1355 265h91v9h-91zM1719 265h45v9h-45zM856 274h45v10h-45zM1037 274h46v10h-46zM1401 274h45v10h-45zM719 284h46v9h-46zM1537 341h45v10h-45zM310 360h46v10h-46zM1991 360h46v10h-46zM2037 370h45v9h-45zM1083 389h45v9h-45zM1219 389h45v9h-45zM1719 437h45v9h-45zM1991 437h46v9h-46zM447 465h227v10h-227zM1719 465h45v10h-45zM1810 494h45v9h-45zM2082 494h46v9h-46zM1310 513h45v9h-45zM992 522h45v10h-45zM1083 532h272v10h-272zM1810 532h45v10h-45zM674 580h136v9h-136zM992 599h45v9h-45zM856 608h45v10h-45zM810 637h46v10h-46zM1855 675h45v10h-45zM1628 685h45v9h-45zM946 723h91v10h-91zM628 742h91v10h-91zM1264 742h273v10h-273zM1492 752h90v9h-90zM583 800h91v9h-91zM1037 809h91v10h-91zM2128 819h45v9h-45zM1537 866h91v10h-91zM1174 914h90v10h-90zM1310 924h91v9h-91zM719 933h182v10h-182zM1355 933h227v10h-227zM2082 952h91v10h-91zM2082 1019h46v10h-46zM1582 1029h228v9h-228zM946 1038h46v10h-46zM310 1077h137v9h-137zM1582 1077h137v9h-137zM1174 1086h181v10h-181zM946 1115h91v9h-91zM1355 1124h137v10h-137zM992 1153h91v9h-91zM1900 1162h46v10h-46zM628 1182h91v9h-91zM856 1430h90v10h-90z"/>
<path fill="#50154a" d="M1355 160h46v9h-46zM1492 160h45v9h-45zM401 169h46v10h-46zM1401 169h45v10h-45zM1673 188h46v10h-46zM1810 188h45v10h-45zM946 198h46v9h-46zM1446 207h182v10h-182zM946 236h46v9h-46zM1128 236h46v9h-46zM992 245h45v10h-45zM1174 245h45v10h-45zM1401 245h45v10h-45zM1900 274h182v10h-182zM1628 284h45v9h-45zM1855 284h45v9h-45zM1900 293h46v10h-46zM1582 303h46v9h-46zM1446 312h136v10h-136zM810 322h46v9h-46zM946 331h182v10h-182zM1219 341h45v10h-45zM856 351h45v9h-45zM856 360h45v10h-45zM992 370h45v9h-45zM1719 379h45v10h-45zM1991 379h91v10h-91zM628 389h137v9h-137zM1946 389h45v9h-45zM310 398h91v10h-91zM1355 398h46v10h-46zM2037 398h45v10h-45zM310 408h137v9h-137zM1264 408h46v9h-46zM538 427h90v10h-90zM901 427h45v10h-45zM538 446h45v10h-45zM1355 446h46v10h-46zM447 456h91v9h-91zM1310 456h45v9h-45zM2037 522h45v10h-45zM946 551h46v10h-46zM1264 551h91v10h-91zM2037 561h45v9h-45zM901 570h182v10h-182zM1810 589h181v10h-181zM1582 599h409v9h-409zM1355 608h91v10h-91zM1764 608h136v10h-136zM1128 628h91v9h-91zM1537 628h91v9h-91zM1174 637h45v10h-45zM2128 637h45v10h-45zM1264 647h137v9h-137zM1174 656h181v10h-181zM1946 685h45v9h-45zM856 704h45v10h-45zM1537 704h91v10h-91zM765 714h91v9h-91zM1492 714h90v9h-90zM946 733h137v9h-137zM2082 752h91v9h-91zM1492 761h90v10h-90zM310 771h137v9h-137zM674 771h227v9h-227zM1128 771h182v9h-182zM1673 809h137v10h-137zM538 828h499v10h-499zM1174 838h181v9h-181zM1719 847h45v10h-45zM1900 885h182v10h-182zM2128 895h45v10h-45zM1946 905h91v9h-91zM2128 914h45v10h-45zM310 952h137v10h-137zM1719 991h272v9h-272zM1855 1010h136v9h-136zM1037 1162h91v10h-91zM447 1172h227v10h-227zM901 1325h227v9h-227z"/>
<path fill="#4b144a" d="M1401 160h91v9h-91zM356 169h45v10h-45zM356 179h45v9h-45zM1719 188h91v10h-91zM1083 198h45v9h-45zM992 236h136v9h-136zM1128 245h46v10h-46zM1764 245h46v10h-46zM1673 284h182v9h-182zM1492 293h45v10h-45zM1855 293h45v10h-45zM1310 303h272v9h-272zM310 322h137v9h-137zM719 322h91v9h-91zM901 341h45v10h-45zM1174 341h45v10h-45zM1174 351h45v9h-45zM1174 360h45v10h-45zM810 370h46v9h-46zM946 370h46v9h-46zM1764 379h227v10h-227zM1492 389h90v9h-90zM1900 389h46v9h-46zM401 398h46v10h-46zM765 398h45v10h-45zM1401 398h45v10h-45zM1310 408h45v9h-45zM1810 408h45v9h-45zM628 427h46v10h-46zM810 427h91v10h-91zM583 446h45v10h-45zM1310 446h45v10h-45zM538 456h45v9h-45zM1264 456h46v9h-46zM2082 522h46v10h-46zM901 551h45v10h-45zM2037 551h45v10h-45zM1219 561h91v9h-91zM1991 589h182v10h-182zM1446 608h46v10h-46zM1582 608h182v10h-182zM1219 628h318v9h-318zM1219 637h45v10h-45zM2082 637h46v10h-46zM1401 647h91v9h-91zM1355 656h137v10h-137zM901 704h45v10h-45zM1446 704h91v10h-91zM856 714h45v9h-45zM1446 714h46v9h-46zM1083 733h91v9h-91zM1764 733h91v9h-91zM447 771h227v9h-227zM901 771h227v9h-227zM1810 809h363v10h-363zM1083 838h91v9h-91zM1673 847h46v10h-46zM2082 885h91v10h-91zM2037 905h45v9h-45zM1991 991h182v9h-182zM1991 1010h182v9h-182zM946 1162h91v10h-91zM310 1172h137v10h-137zM1128 1325h227v9h-227z"/>
<path fill="#55164a" d="M1537 160h45v9h-45zM1673 160h91v9h-91zM1810 160h45v9h-45zM2128 160h45v9h-45zM1355 169h46v10h-46zM1446 169h46v10h-46zM401 179h46v9h-46zM356 188h45v10h-45zM1628 188h45v10h-45zM1855 188h91v10h-91zM1401 207h45v10h-45zM1628 207h91v10h-91zM2037 217h45v9h-45zM901 236h45v9h-45zM1174 236h45v9h-45zM1810 245h45v10h-45zM1855 274h45v10h-45zM2082 274h91v10h-91zM1582 284h46v9h-46zM1900 284h182v9h-182zM1446 293h46v10h-46zM1946 293h45v10h-45zM1264 303h46v9h-46zM1628 303h45v9h-45zM447 312h91v10h-91zM1355 312h91v10h-91zM1582 312h46v10h-46zM856 322h90v9h-90zM901 331h45v10h-45zM1128 331h46v10h-46zM1219 360h45v10h-45zM765 370h45v9h-45zM1037 370h46v9h-46zM2082 379h46v10h-46zM583 389h45v9h-45zM765 389h45v9h-45zM1446 389h46v9h-46zM810 398h46v10h-46zM2082 398h46v10h-46zM447 408h45v9h-45zM1855 408h45v9h-45zM356 417h45v10h-45zM492 427h46v10h-46zM946 427h91v10h-91zM674 437h227v9h-227zM492 446h46v10h-46zM1401 446h45v10h-45zM356 456h91v9h-91zM1355 456h46v9h-46zM401 532h91v10h-91zM1174 542h136v9h-136zM992 551h91v10h-91zM1219 551h45v10h-45zM2082 551h46v10h-46zM2082 561h46v9h-46zM765 570h136v10h-136zM1083 570h91v10h-91zM1764 589h46v10h-46zM1492 599h90v9h-90zM1991 599h182v9h-182zM1264 608h91v10h-91zM1900 608h46v10h-46zM1128 618h409v10h-409zM1083 628h45v9h-45zM1628 628h45v9h-45zM1219 647h45v9h-45zM447 656h409v10h-409zM992 656h182v10h-182zM1900 685h46v9h-46zM1628 704h45v10h-45zM674 714h91v9h-91zM1991 723h182v10h-182zM901 733h45v9h-45zM2037 752h45v9h-45zM1446 761h46v10h-46zM1310 771h91v9h-91zM1628 809h45v10h-45zM310 828h228v10h-228zM1037 828h409v10h-409zM1355 838h364v9h-364zM1764 847h91v10h-91zM310 885h137v10h-137zM1764 885h136v10h-136zM2082 895h46v10h-46zM1855 905h91v9h-91zM2082 914h46v10h-46zM447 952h227v10h-227zM1582 991h137v9h-137zM1810 1010h45v9h-45zM310 1038h91v10h-91zM310 1096h1590v9h-1590zM1128 1162h91v10h-91zM674 1172h318v10h-318zM2037 1210h136v10h-136zM674 1325h227v9h-227zM310 1382h228v10h-228z"/>
<path fill="#60174a" d="M1628 160h45v9h-45zM1946 160h136v9h-136zM447 169h45v10h-45zM1264 169h46v10h-46zM2082 169h91v10h-91zM447 179h45v9h-45zM1355 179h91v9h-91zM1582 188h46v10h-46zM1991 188h46v10h-46zM1628 198h45v9h-45zM1764 198h46v9h-46zM310 207h137v10h-137zM492 207h46v10h-46zM1719 207h45v10h-45zM1401 217h45v9h-45zM1582 217h46v9h-46zM1991 217h46v9h-46zM2128 217h45v9h-45zM1446 226h46v10h-46zM765 236h91v9h-91zM1264 236h46v9h-46zM901 245h45v10h-45zM1264 245h91v10h-91zM1855 245h45v10h-45zM1264 255h546v10h-546zM2128 265h45v9h-45zM1810 274h45v10h-45zM1537 284h45v9h-45zM1037 293h46v10h-46zM1128 293h46v10h-46zM1401 293h45v10h-45zM2037 293h45v10h-45zM1673 303h46v9h-46zM856 312h45v10h-45zM1264 312h46v10h-46zM1128 322h46v9h-46zM810 331h46v10h-46zM1219 331h45v10h-45zM810 351h46v9h-46zM810 360h46v10h-46zM356 370h182v9h-182zM674 370h45v9h-45zM1128 370h46v9h-46zM1537 370h136v9h-136zM1764 370h46v9h-46zM1537 379h45v10h-45zM401 389h91v9h-91zM856 389h45v9h-45zM1401 389h45v9h-45zM2037 389h45v9h-45zM856 398h45v10h-45zM1310 398h45v10h-45zM2128 398h45v10h-45zM1900 408h46v9h-46zM538 417h136v10h-136zM1401 417h181v10h-181zM401 427h46v10h-46zM1128 427h182v10h-182zM492 437h46v9h-46zM1037 437h318v9h-318zM1446 456h46v9h-46zM1128 494h136v9h-136zM1401 494h91v9h-91zM1219 503h273v10h-273zM2128 513h45v9h-45zM1946 522h45v10h-45zM583 532h91v10h-91zM992 542h91v9h-91zM1446 542h91v9h-91zM674 570h45v10h-45zM1355 570h636v10h-636zM992 589h91v10h-91zM1582 589h137v10h-137zM1355 599h91v9h-91zM2082 608h46v10h-46zM310 618h591v10h-591zM1673 618h46v10h-46zM992 628h45v9h-45zM1719 628h91v9h-91zM992 647h91v9h-91zM1174 666h90v9h-90zM1810 666h363v9h-363zM765 704h45v10h-45zM1719 704h45v10h-45zM492 714h91v9h-91zM1673 714h46v9h-46zM1537 723h182v10h-182zM1900 752h46v9h-46zM1264 761h91v10h-91zM2037 828h136v10h-136zM1855 838h182v9h-182zM1946 847h45v10h-45zM901 857h227v9h-227zM1991 876h182v9h-182zM628 885h91v10h-91zM1310 885h136v10h-136zM1900 895h46v10h-46zM1764 905h46v9h-46zM1855 914h91v10h-91zM583 943h227v9h-227zM901 952h136v10h-136zM1900 981h137v10h-137zM1037 991h318v9h-318zM1582 1010h137v9h-137zM492 1038h91v10h-91zM1037 1105h318v10h-318zM1900 1115h91v9h-91zM1264 1162h91v10h-91zM1355 1172h227v10h-227zM1628 1210h182v10h-182zM310 1315h228v10h-228zM1037 1315h409v10h-409zM310 1325h137v9h-137zM310 1373h1136v9h-1136zM1037 1382h409v10h-409z"/>
<path fill="#461349" d="M310 169h46v10h-46zM310 179h46v9h-46zM310 188h46v10h-46zM992 198h91v9h-91zM1037 245h91v10h-91zM1446 245h46v10h-46zM1719 245h45v10h-45zM1537 293h45v10h-45zM1810 293h45v10h-45zM447 322h91v9h-91zM674 322h45v9h-45zM901 351h45v9h-45zM901 360h45v10h-45zM1128 360h46v10h-46zM856 370h90v9h-90zM1582 389h46v9h-46zM1855 389h45v9h-45zM447 398h45v10h-45zM719 398h46v10h-46zM1991 398h46v10h-46zM1764 408h46v9h-46zM674 427h136v10h-136zM628 446h182v10h-182zM1264 446h46v10h-46zM583 456h91v9h-91zM1128 456h136v9h-136zM2128 522h45v10h-45zM856 551h45v10h-45zM1355 551h46v10h-46zM946 561h273v9h-273zM1310 561h136v9h-136zM1946 561h91v9h-91zM1492 608h90v10h-90zM1264 637h46v10h-46zM2037 637h45v10h-45zM1492 647h90v9h-90zM1492 656h90v10h-90zM1991 685h46v9h-46zM946 704h182v10h-182zM1310 704h136v10h-136zM901 714h545v9h-545zM1174 733h590v9h-590zM1855 733h318v9h-318zM1582 761h182v10h-182zM538 838h545v9h-545zM1582 847h91v10h-91zM2082 905h46v9h-46zM856 1162h90v10h-90zM310 1220h273v9h-273zM1355 1325h227v9h-227z"/>
<path fill="#741c4a" d="M538 169h45v10h-45zM810 169h91v10h-91zM1719 169h45v10h-45zM538 179h45v9h-45zM1946 179h45v9h-45zM992 188h45v10h-45zM765 198h45v9h-45zM1537 198h45v9h-45zM1855 198h45v9h-45zM583 207h45v10h-45zM856 207h181v10h-181zM1855 207h45v10h-45zM356 217h45v9h-45zM992 226h136v10h-136zM1264 226h46v10h-46zM1582 236h46v9h-46zM1900 265h46v9h-46zM1719 274h45v10h-45zM901 284h91v9h-91zM492 303h46v9h-46zM1037 312h46v10h-46zM1128 312h91v10h-91zM1810 322h45v9h-45zM1446 331h46v10h-46zM1537 331h45v10h-45zM2128 331h45v10h-45zM1355 360h46v10h-46zM765 379h91v10h-91zM946 379h182v10h-182zM1264 379h91v10h-91zM992 398h45v10h-45zM1219 398h45v10h-45zM1083 408h45v9h-45zM1991 408h46v9h-46zM810 417h46v10h-46zM1264 417h46v10h-46zM1719 417h91v10h-91zM1810 427h227v10h-227zM1582 446h46v10h-46zM1628 456h45v9h-45zM992 465h182v10h-182zM1401 465h91v10h-91zM310 475h46v9h-46zM765 475h91v9h-91zM1083 484h91v10h-91zM310 494h273v9h-273zM310 503h727v10h-727zM2037 503h45v10h-45zM447 513h136v9h-136zM1128 513h46v9h-46zM1991 513h46v9h-46zM810 532h46v10h-46zM583 542h91v9h-91zM1810 542h136v9h-136zM538 570h45v10h-45zM1219 580h363v9h-363zM2037 580h45v9h-45zM447 589h227v10h-227zM1174 599h45v9h-45zM1083 608h45v10h-45zM1991 618h46v10h-46zM628 628h91v9h-91zM1946 628h45v9h-45zM765 647h45v9h-45zM810 666h46v9h-46zM1719 685h45v9h-45zM1810 694h45v10h-45zM583 704h45v10h-45zM1991 704h46v10h-46zM1900 714h46v9h-46zM1310 723h45v10h-45zM583 733h91v9h-91zM1991 742h46v10h-46zM674 761h227v10h-227zM1355 809h91v10h-91zM447 819h136v9h-136zM1582 876h137v9h-137zM583 895h91v10h-91zM1673 895h46v10h-46zM1537 905h91v9h-91zM1582 914h91v10h-91zM2037 924h136v9h-136zM946 943h46v9h-46zM1264 952h91v10h-91zM310 981h137v10h-137zM1128 1010h136v9h-136zM719 1038h46v10h-46zM2082 1077h46v9h-46zM1991 1105h182v10h-182zM1537 1115h91v9h-91zM2037 1124h136v10h-136zM583 1153h91v9h-91zM1582 1162h46v10h-46zM1037 1210h137v10h-137zM310 1229h1136v10h-1136zM1492 1392h408v9h-408zM1492 1430h90v10h-90z"/>
<path fill="#832145" d="M719 179h91v9h-91zM1037 179h91v9h-91zM1537 179h45v9h-45zM492 188h46v10h-46zM1174 188h181v10h-181zM1310 198h91v9h-91zM2037 198h45v9h-45zM719 217h46v9h-46zM810 217h46v9h-46zM1037 217h46v9h-46zM1764 217h91v9h-91zM674 226h91v10h-91zM856 226h45v10h-45zM1991 226h46v10h-46zM310 236h137v9h-137zM1810 236h45v9h-45zM310 245h137v10h-137zM538 255h45v10h-45zM2128 255h45v10h-45zM356 265h45v9h-45zM1083 265h45v9h-45zM1764 265h46v9h-46zM901 274h136v10h-136zM1083 284h45v9h-45zM310 303h46v9h-46zM1946 312h136v10h-136zM356 360h45v10h-45zM2037 360h45v10h-45zM401 465h46v10h-46zM674 465h45v10h-45zM1673 465h46v10h-46zM1310 475h45v9h-45zM1764 494h46v9h-46zM2128 494h45v9h-45zM1855 513h45v9h-45zM310 522h91v10h-91zM992 532h91v10h-91zM810 580h91v9h-91zM1037 599h46v9h-46zM2082 628h91v9h-91zM856 637h45v10h-45zM310 647h91v9h-91zM1900 675h46v10h-46zM1628 694h45v10h-45zM1037 723h91v10h-91zM719 742h182v10h-182zM1128 742h136v10h-136zM1537 742h227v10h-227zM1582 752h46v9h-46zM492 800h91v9h-91zM1128 809h46v10h-46zM946 819h182v9h-182zM2082 819h46v9h-46zM1628 866h227v10h-227zM1128 895h136v10h-136zM1264 905h91v9h-91zM1264 914h46v10h-46zM1401 924h136v9h-136zM628 933h91v10h-91zM1582 933h364v10h-364zM1128 943h46v9h-46zM1946 952h136v10h-136zM2128 1019h45v10h-45zM901 1038h45v10h-45zM1719 1077h91v9h-91zM1083 1086h91v10h-91zM1037 1115h91v9h-91zM1492 1124h90v10h-90zM901 1153h91v9h-91zM1855 1162h45v10h-45zM492 1182h136v9h-136zM946 1430h91v10h-91z"/>
<path fill="#95273b" d="M1628 179h45v9h-45zM628 188h46v10h-46zM1719 226h45v10h-45zM1855 226h45v10h-45zM538 265h45v9h-45zM674 265h45v9h-45zM538 274h181v10h-181zM1219 274h45v10h-45zM310 284h46v9h-46zM538 284h45v9h-45zM356 293h227v10h-227zM310 341h46v10h-46zM628 341h46v10h-46zM1628 341h45v10h-45zM1900 341h91v10h-91zM628 351h46v9h-46zM1946 351h45v9h-45zM1492 360h45v10h-45zM1855 360h45v10h-45zM1900 465h46v10h-46zM1446 475h46v9h-46zM1446 484h46v10h-46zM1446 513h46v9h-46zM856 599h90v9h-90zM310 608h137v10h-137zM628 637h91v10h-91zM447 675h227v10h-227zM1037 675h591v10h-591zM1492 685h45v9h-45zM1310 694h45v10h-45zM1355 752h46v9h-46zM901 780h45v10h-45zM1673 780h91v10h-91zM1355 790h409v10h-409zM901 800h91v9h-91zM2128 800h45v9h-45zM1083 866h91v10h-91zM310 905h228v9h-228zM901 905h182v9h-182zM719 914h137v10h-137zM992 924h91v9h-91zM1401 943h91v9h-91zM1628 1019h91v10h-91zM1174 1038h45v10h-45zM447 1115h181v9h-181zM628 1124h91v10h-91zM2128 1134h45v9h-45zM1264 1153h46v9h-46zM1083 1182h91v9h-91z"/>
<path fill="#9a283a" d="M1764 226h91v10h-91zM583 265h91v9h-91zM310 274h228v10h-228zM356 284h91v9h-91zM492 284h46v9h-46zM583 341h45v10h-45zM1673 341h46v10h-46zM583 351h45v9h-45zM1401 351h45v9h-45zM1492 475h45v9h-45zM1492 484h45v10h-45zM1492 513h227v9h-227zM1128 522h46v10h-46zM1628 522h91v10h-91zM310 599h46v9h-46zM674 599h182v9h-182zM583 637h45v10h-45zM310 675h137v10h-137zM1446 685h46v9h-46zM1264 694h46v10h-46zM1264 752h91v9h-91zM1764 780h182v10h-182zM1128 790h227v10h-227zM1764 790h227v10h-227zM992 800h136v9h-136zM1764 800h364v9h-364zM901 866h182v10h-182zM538 905h363v9h-363zM628 914h91v10h-91zM856 924h136v9h-136zM1492 943h90v9h-90zM1537 1019h91v10h-91zM1219 1038h91v10h-91zM310 1067h91v10h-91zM310 1115h137v9h-137zM447 1124h181v10h-181zM2037 1134h91v9h-91zM1310 1153h45v9h-45zM1174 1182h136v9h-136z"/>
<path fill="#421248" d="M1492 245h45v10h-45zM1628 245h91v10h-91zM1764 293h46v10h-46zM538 322h136v9h-136zM946 341h91v10h-91zM1128 341h46v10h-46zM946 351h46v9h-46zM1128 351h46v9h-46zM946 360h182v10h-182zM1628 389h227v9h-227zM492 398h46v10h-46zM674 398h45v10h-45zM1446 398h46v10h-46zM1719 398h136v10h-136zM1946 398h45v10h-45zM1355 408h46v9h-46zM1719 408h45v9h-45zM810 446h46v10h-46zM1219 446h45v10h-45zM674 456h45v9h-45zM765 456h363v9h-363zM810 551h46v10h-46zM1401 551h45v10h-45zM1991 551h46v10h-46zM901 561h45v9h-45zM1446 561h46v9h-46zM1900 561h46v9h-46zM1310 637h45v10h-45zM1582 647h273v9h-273zM1582 656h273v10h-273zM2037 685h45v9h-45zM1128 704h182v10h-182zM1764 761h91v10h-91zM310 838h228v9h-228zM1537 847h45v10h-45zM2128 905h45v9h-45zM765 1162h91v10h-91zM583 1220h409v9h-409zM1582 1325h318v9h-318z"/>
<path fill="#3d1148" d="M1537 245h91v10h-91zM1582 293h182v10h-182zM1037 341h91v10h-91zM992 351h136v9h-136zM538 398h136v10h-136zM1492 398h227v10h-227zM1855 398h91v10h-91zM1401 408h45v9h-45zM1628 408h45v9h-45zM856 446h45v10h-45zM1174 446h45v10h-45zM719 456h46v9h-46zM719 551h91v10h-91zM1446 551h91v10h-91zM1855 551h136v10h-136zM1492 561h90v9h-90zM1764 561h136v9h-136zM1946 637h91v10h-91zM1855 647h182v9h-182zM1855 656h91v10h-91zM2082 685h91v9h-91zM1855 761h136v10h-136zM1401 847h136v10h-136zM1991 962h182v9h-182zM674 1162h91v10h-91zM992 1220h363v9h-363zM1900 1325h273v9h-273z"/>
<path fill="#9e2938" d="M447 284h45v9h-45zM356 341h45v10h-45zM538 341h45v10h-45zM1719 341h91v10h-91zM1855 341h45v10h-45zM538 351h45v9h-45zM1900 351h46v9h-46zM1537 360h45v10h-45zM1810 360h45v10h-45zM1946 465h45v10h-45zM1174 522h90v10h-90zM356 599h91v9h-91zM538 599h136v9h-136zM492 637h91v10h-91zM1401 685h45v9h-45zM1219 694h45v10h-45zM1128 752h136v9h-136zM856 780h45v10h-45zM1946 780h91v10h-91zM946 790h182v10h-182zM1991 790h182v10h-182zM1128 800h182v9h-182zM1446 800h318v9h-318zM674 866h227v10h-227zM447 914h181v10h-181zM719 924h137v9h-137zM1582 943h46v9h-46zM1401 1019h136v10h-136zM1310 1038h45v10h-45zM401 1067h91v10h-91zM310 1124h137v10h-137zM1946 1134h91v9h-91zM1355 1153h46v9h-46zM1310 1182h91v9h-91z"/>
<path fill="#a32b34" d="M401 341h137v10h-137zM1810 341h45v10h-45zM1582 360h46v10h-46zM1764 360h46v10h-46zM1991 465h46v10h-46zM1537 475h45v9h-45zM1537 484h45v10h-45zM2128 484h45v10h-45zM1264 522h46v10h-46zM1582 522h46v10h-46zM447 599h91v9h-91zM401 637h91v10h-91zM1355 685h46v9h-46zM1128 694h91v10h-91zM1037 752h91v9h-91zM810 780h46v10h-46zM2037 780h136v10h-136zM856 790h90v10h-90zM1310 800h136v9h-136zM447 866h227v10h-227zM310 914h137v10h-137zM628 924h91v9h-91zM1628 943h182v9h-182zM1310 1019h91v10h-91zM1355 1038h91v10h-91zM492 1067h136v10h-136zM1810 1134h136v9h-136zM1401 1153h91v9h-91zM1401 1182h136v9h-136zM2037 1420h136v10h-136z"/>
<path fill="#a62c32" d="M310 351h46v9h-46zM492 351h46v9h-46zM1446 351h46v9h-46zM1719 360h45v10h-45zM2082 484h46v10h-46zM1310 522h45v10h-45zM1446 522h136v10h-136zM310 637h91v10h-91zM1037 694h91v10h-91zM992 752h45v9h-45zM583 790h273v10h-273zM310 866h137v10h-137zM447 924h181v9h-181zM1810 943h181v9h-181zM1128 1019h182v10h-182zM1446 1038h46v10h-46zM628 1067h273v10h-273zM1673 1134h137v9h-137zM1492 1153h90v9h-90zM1537 1182h91v9h-91zM1810 1420h227v10h-227z"/>
<path fill="#aa2e30" d="M356 351h136v9h-136zM1492 351h45v9h-45zM1855 351h45v9h-45zM1628 360h91v10h-91zM2037 465h136v10h-136zM2037 484h45v10h-45zM1401 522h45v10h-45zM1310 685h45v9h-45zM946 694h91v10h-91zM901 752h91v9h-91zM765 780h45v10h-45zM310 790h273v10h-273zM310 924h137v9h-137zM1991 943h182v9h-182zM310 1019h137v10h-137zM674 1019h454v10h-454zM1492 1038h45v10h-45zM901 1067h136v10h-136zM1582 1134h91v9h-91zM1582 1153h91v9h-91zM1628 1182h182v9h-182zM1628 1420h182v10h-182z"/>
<path fill="#b1312c" d="M1537 351h45v9h-45zM1810 351h45v9h-45zM1582 475h46v9h-46zM1991 484h46v10h-46zM674 752h136v9h-136zM583 780h91v10h-91zM1582 1038h46v10h-46zM1128 1067h91v10h-91zM1446 1134h46v9h-46zM1719 1153h45v9h-45zM2037 1182h136v9h-136zM2082 1201h46v9h-46zM1310 1420h182v10h-182z"/>
<path fill="#b63628" d="M1582 351h46v9h-46zM1719 351h45v9h-45zM1719 475h45v9h-45zM1855 484h91v10h-91zM1128 685h91v9h-91zM810 694h46v10h-46zM401 780h137v10h-137zM1673 1038h91v10h-91zM1446 1067h727v10h-727zM1264 1134h91v9h-91zM2082 1143h91v10h-91zM1810 1153h90v9h-90zM1991 1201h46v9h-46zM1083 1420h91v10h-91z"/>
<path fill="#b93927" d="M1628 351h45v9h-45zM1764 475h46v9h-46zM1673 484h182v10h-182zM310 780h91v10h-91zM1764 1038h91v10h-91zM1219 1134h45v9h-45zM1991 1143h91v10h-91zM1900 1153h46v9h-46zM1946 1201h45v9h-45zM946 1420h137v10h-137z"/>
<path fill="#bc3c25" d="M1673 351h46v9h-46zM1083 685h45v9h-45zM765 694h45v10h-45zM1855 1038h136v10h-136zM1128 1134h91v9h-91zM1810 1143h181v10h-181zM1946 1153h91v9h-91zM1855 1201h91v9h-91zM856 1420h90v10h-90z"/>
<path fill="#b4342a" d="M1764 351h46v9h-46zM1628 475h91v9h-91zM1628 484h45v10h-45zM1946 484h45v10h-45zM1219 685h45v9h-45zM856 694h45v10h-45zM310 752h364v9h-364zM538 780h45v10h-45zM1628 1038h45v10h-45zM1219 1067h227v10h-227zM1355 1134h91v9h-91zM1764 1153h46v9h-46zM2037 1201h45v9h-45zM1174 1420h136v10h-136z"/>
<path fill="#381048" d="M1446 408h182v9h-182zM1673 408h46v9h-46zM901 446h45v10h-45zM1128 446h46v10h-46zM628 551h91v10h-91zM1537 551h91v10h-91zM1764 551h91v10h-91zM856 561h45v9h-45zM1582 561h182v9h-182zM1355 637h46v10h-46zM1900 637h46v10h-46zM1946 656h45v10h-45zM1991 761h182v10h-182zM1310 847h91v10h-91zM1855 962h136v9h-136zM583 1162h91v10h-91zM1355 1220h227v9h-227z"/>
<path fill="#330e48" d="M946 446h182v10h-182zM310 551h91v10h-91zM492 551h136v10h-136zM1628 551h136v10h-136zM310 561h137v9h-137zM674 561h182v9h-182zM1401 637h45v10h-45zM1764 637h136v10h-136zM2037 647h136v9h-136zM1991 656h182v10h-182zM1128 847h182v10h-182zM1719 962h136v9h-136zM492 1162h91v10h-91zM1582 1220h591v9h-591z"/>
<path fill="#be3e23" d="M1810 475h45v9h-45zM310 685h46v9h-46zM1037 685h46v9h-46zM674 694h91v10h-91zM1991 1038h182v10h-182zM1037 1134h91v9h-91zM1582 1143h228v10h-228zM2037 1153h45v9h-45zM1810 1201h45v9h-45zM719 1420h137v10h-137z"/>
<path fill="#c14021" d="M1855 475h45v9h-45zM356 685h91v9h-91zM946 685h91v9h-91zM583 694h91v10h-91zM901 1134h136v9h-136zM1355 1143h227v10h-227zM2082 1153h91v9h-91zM1764 1201h46v9h-46zM628 1420h91v10h-91z"/>
<path fill="#c3421e" d="M1900 475h46v9h-46zM447 685h45v9h-45zM901 685h45v9h-45zM447 694h136v10h-136zM765 1134h136v9h-136zM310 1143h1045v10h-1045zM1719 1201h45v9h-45zM447 1420h181v10h-181z"/>
<path fill="#c6441c" d="M1946 475h45v9h-45zM492 685h46v9h-46zM310 694h137v10h-137zM719 1134h46v9h-46zM1628 1201h91v9h-91zM310 1363h46v10h-46zM310 1420h137v10h-137z"/>
<path fill="#c8461a" d="M1991 475h46v9h-46zM538 685h136v9h-136zM856 685h45v9h-45zM628 1134h91v9h-91zM1537 1201h91v9h-91zM2082 1296h91v10h-91zM356 1363h45v10h-45z"/>
<path fill="#ca4819" d="M2037 475h136v9h-136zM674 685h182v9h-182zM583 1134h45v9h-45zM1401 1201h136v9h-136zM1991 1296h91v10h-91zM401 1363h46v10h-46z"/>
<path fill="#ae302e" d="M1582 484h46v10h-46zM1355 522h46v10h-46zM1264 685h46v9h-46zM901 694h45v10h-45zM810 752h91v9h-91zM674 780h91v10h-91zM447 1019h227v10h-227zM1537 1038h45v10h-45zM1037 1067h91v10h-91zM1492 1134h90v9h-90zM1673 1153h46v9h-46zM1810 1182h227v9h-227zM2128 1201h45v9h-45zM1492 1420h136v10h-136z"/>
<path fill="#2e0d41" d="M401 551h91v10h-91zM447 561h227v9h-227zM1446 637h318v10h-318zM310 847h137v10h-137zM901 847h227v10h-227zM310 962h137v9h-137zM1628 962h91v9h-91zM310 1000h137v10h-137zM401 1162h91v10h-91zM310 1401h137v10h-137z"/>
<path fill="#280c3a" d="M447 847h454v10h-454zM447 962h227v9h-227zM1401 962h227v9h-227zM447 1000h227v10h-227zM2082 1000h91v10h-91zM310 1162h91v10h-91zM447 1401h227v10h-227z"/>
<path fill="#250b35" d="M674 962h727v9h-727zM674 1000h1408v10h-1408zM674 1401h227v10h-227z"/>
<path fill="#1f0a2a" d="M310 971h137v10h-137zM1128 1401h318v10h-318zM310 1411h137v9h-137z"/>
<path fill="#1c0925" d="M447 971h181v10h-181zM1446 1401h727v10h-727zM447 1411h227v9h-227z"/>
<path fill="#180820" d="M628 971h91v10h-91zM674 1411h227v9h-227z"/>
<path fill="#14061a" d="M719 971h91v10h-91zM901 1411h227v9h-227z"/>
<path fill="#110514" d="M810 971h91v10h-91zM1128 1411h318v9h-318z"/>
<path fill="#0d040f" d="M901 971h91v10h-91zM2082 971h91v10h-91zM1446 1411h364v9h-364z"/>
<path fill="#09030b" d="M992 971h272v10h-272zM2037 971h45v10h-45zM1810 1411h227v9h-227z"/>
<path fill="#060207" d="M1264 971h46v10h-46zM1946 971h91v10h-91zM2037 1411h136v9h-136z"/>
<path fill="#020102" d="M1310 971h318v10h-318zM1719 971h227v10h-227z"/>
<path fill="#000000" d="M1628 971h91v10h-91z"/>
<path fill="#d24d14" d="M310 1048h46v9h-46zM310 1134h91v9h-91zM1128 1201h91v9h-91zM1719 1296h91v10h-91z"/>
<path fill="#d44f13" d="M356 1048h91v9h-91zM1037 1201h91v9h-91zM1174 1296h545v10h-545zM492 1363h46v10h-46z"/>
<path fill="#d55313" d="M447 1048h45v9h-45zM674 1201h363v9h-363zM1083 1296h91v10h-91z"/>
<path fill="#d65613" d="M492 1048h91v9h-91zM2128 1191h45v10h-45zM447 1201h227v9h-227zM901 1296h182v10h-182zM538 1363h45v10h-45z"/>
<path fill="#d75a12" d="M583 1048h91v9h-91zM2082 1191h46v10h-46zM310 1201h137v9h-137zM583 1296h318v10h-318zM583 1363h45v10h-45z"/>
<path fill="#d85d12" d="M674 1048h91v9h-91zM2037 1191h45v10h-45zM2037 1287h136v9h-136zM310 1296h273v10h-273zM628 1363h46v10h-46z"/>
<path fill="#d96112" d="M765 1048h45v9h-45zM1946 1191h91v10h-91zM1855 1287h182v9h-182zM674 1363h45v10h-45z"/>
<path fill="#da6513" d="M810 1048h91v9h-91zM1810 1191h136v10h-136zM1764 1287h91v9h-91zM719 1363h46v10h-46z"/>
<path fill="#db6814" d="M901 1048h45v9h-45zM310 1057h91v10h-91zM1628 1191h182v10h-182zM1582 1287h182v9h-182z"/>
<path fill="#db6c15" d="M946 1048h137v9h-137zM401 1057h91v10h-91zM1446 1191h182v10h-182zM1355 1287h227v9h-227z"/>
<path fill="#dc6f16" d="M1083 1048h272v9h-272zM2037 1048h136v9h-136zM492 1057h182v10h-182zM2082 1057h91v10h-91zM1310 1191h136v10h-136zM1174 1287h181v9h-181zM765 1363h45v10h-45z"/>
<path fill="#dd7317" d="M1355 1048h682v9h-682zM674 1057h227v10h-227zM1810 1057h272v10h-272zM992 1191h318v10h-318zM1083 1287h91v9h-91zM810 1363h46v10h-46z"/>
<path fill="#de7617" d="M901 1057h909v10h-909zM310 1191h682v10h-682zM901 1287h182v9h-182zM856 1363h45v10h-45z"/>
<path fill="#cf4b16" d="M401 1134h91v9h-91zM1219 1201h91v9h-91zM1810 1296h90v10h-90zM447 1363h45v10h-45z"/>
<path fill="#cd4a17" d="M492 1134h91v9h-91zM1310 1201h91v9h-91zM1900 1296h91v10h-91z"/>
<path fill="#e08c22" d="M310 1239h273v9h-273zM1174 1363h45v10h-45z"/>
<path fill="#e09024" d="M583 1239h409v9h-409zM2037 1239h136v9h-136z"/>
<path fill="#e19327" d="M992 1239h500v9h-500zM1810 1239h227v9h-227z"/>
<path fill="#e2962a" d="M1492 1239h318v9h-318zM1219 1363h45v10h-45z"/>
<path fill="#ecdfb4" d="M310 1248h137v10h-137zM946 1258h137v10h-137zM2082 1363h46v10h-46z"/>
<path fill="#ede2bc" d="M447 1248h181v10h-181zM810 1258h136v10h-136zM2128 1363h45v10h-45z"/>
<path fill="#eee4c4" d="M628 1248h91v10h-91zM674 1258h136v10h-136z"/>
<path fill="#efe7cc" d="M719 1248h137v10h-137zM2082 1248h91v10h-91zM447 1258h227v10h-227z"/>
<path fill="#f0ead4" d="M856 1248h90v10h-90zM2037 1248h45v10h-45zM310 1258h137v10h-137z"/>
<path fill="#f1ecdc" d="M946 1248h137v10h-137zM1946 1248h91v10h-91z"/>
<path fill="#f2eee1" d="M1083 1248h91v10h-91zM1900 1248h46v10h-46z"/>
<path fill="#f3f0e6" d="M1174 1248h181v10h-181zM1810 1248h90v10h-90z"/>
<path fill="#f4f2eb" d="M1355 1248h182v10h-182zM1764 1248h46v10h-46z"/>
<path fill="#f5f3f0" d="M1537 1248h227v10h-227z"/>
<path fill="#ebddad" d="M1083 1258h91v10h-91z"/>
<path fill="#eadaa5" d="M1174 1258h181v10h-181zM2037 1363h45v10h-45z"/>
<path fill="#e8d79d" d="M1355 1258h227v10h-227z"/>
<path fill="#e7d596" d="M1582 1258h137v10h-137zM1492 1354h681v9h-681zM1991 1363h46v10h-46z"/>
<path fill="#e6d28e" d="M1719 1258h45v10h-45zM1128 1354h364v9h-364zM1946 1363h45v10h-45z"/>
<path fill="#e5cd83" d="M1764 1258h46v10h-46zM674 1354h227v9h-227zM1855 1363h45v10h-45z"/>
<path fill="#e4ca7e" d="M1810 1258h45v10h-45zM447 1354h227v9h-227zM1810 1363h45v10h-45z"/>
<path fill="#e4c878" d="M1855 1258h45v10h-45zM310 1354h137v9h-137zM1764 1363h46v10h-46z"/>
<path fill="#e4c572" d="M1900 1258h46v10h-46zM310 1344h1727v10h-1727z"/>
<path fill="#e4c26d" d="M1946 1258h45v10h-45zM2037 1344h136v10h-136zM1719 1363h45v10h-45z"/>
<path fill="#e4bf67" d="M1991 1258h46v10h-46zM1673 1363h46v10h-46z"/>
<path fill="#e3bc61" d="M2037 1258h91v10h-91zM1628 1363h45v10h-45z"/>
<path fill="#e3b95c" d="M2128 1258h45v10h-45z"/>
<path fill="#e3b34f" d="M310 1268h228v9h-228zM1764 1268h91v9h-91z"/>
<path fill="#e3b656" d="M538 1268h1226v9h-1226zM1582 1363h46v10h-46z"/>
<path fill="#e4b048" d="M1855 1268h136v9h-136zM1537 1363h45v10h-45z"/>
<path fill="#e4ac41" d="M1991 1268h91v9h-91zM1492 1363h45v10h-45z"/>
<path fill="#e4a93a" d="M2082 1268h91v9h-91zM1446 1363h46v10h-46z"/>
<path fill="#e3a435" d="M310 1277h273v10h-273zM1810 1277h181v10h-181z"/>
<path fill="#e4a638" d="M583 1277h1227v10h-1227zM1401 1363h45v10h-45z"/>
<path fill="#e3a233" d="M1991 1277h91v10h-91zM1355 1363h46v10h-46z"/>
<path fill="#e39f31" d="M2082 1277h91v10h-91zM1310 1363h45v10h-45z"/>
<path fill="#de7918" d="M310 1287h591v9h-591zM901 1363h45v10h-45z"/>
<path fill="#e08a20" d="M310 1334h228v10h-228z"/>
<path fill="#e0881f" d="M538 1334h363v10h-363zM1128 1363h46v10h-46z"/>
<path fill="#e0861d" d="M901 1334h227v10h-227zM1083 1363h45v10h-45z"/>
<path fill="#df831c" d="M1128 1334h364v10h-364z"/>
<path fill="#df811a" d="M1492 1334h681v10h-681zM1037 1363h46v10h-46z"/>
<path fill="#e6d088" d="M901 1354h227v9h-227zM1900 1363h46v10h-46z"/>
<path fill="#de7c18" d="M946 1363h46v10h-46z"/>
<path fill="#df7f19" d="M992 1363h45v10h-45z"/>
<path fill="#e29a2c" d="M1264 1363h46v10h-46z"/>
<path fill="#220a30" d="M901 1401h227v10h-227z"/>
</g>
<defs><linearGradient id="cb" x1="0" y1="1" x2="0" y2="0">
<stop offset="0.0000" stop-color="#000000"/>
<stop offset="0.0310" stop-color="#0d040f"/>
<stop offset="0.0655" stop-color="#1c0925"/>
<stop offset="0.1000" stop-color="#280c3a"/>
<stop offset="0.1173" stop-color="#330e48"/>
<stop offset="0.1345" stop-color="#3d1148"/>
<stop offset="0.1690" stop-color="#50154a"/>
<stop offset="0.2035" stop-color="#65184a"/>
<stop offset="0.2380" stop-color="#791e4a"/>
<stop offset="0.2725" stop-color="#832145"/>
<stop offset="0.3070" stop-color="#91263d"/>
<stop offset="0.3346" stop-color="#9f2938"/>
<stop offset="0.3415" stop-color="#a32b34"/>
<stop offset="0.3760" stop-color="#b1312c"/>
<stop offset="0.4105" stop-color="#bc3c25"/>
<stop offset="0.4536" stop-color="#c8461a"/>
<stop offset="0.4967" stop-color="#d44f13"/>
<stop offset="0.5398" stop-color="#d96112"/>
<stop offset="0.5830" stop-color="#dd7317"/>
<stop offset="0.6175" stop-color="#df7f19"/>
<stop offset="0.6692" stop-color="#e08c22"/>
<stop offset="0.7037" stop-color="#e29a2c"/>
<stop offset="0.7554" stop-color="#e4a93a"/>
<stop offset="0.7899" stop-color="#e3b656"/>
<stop offset="0.8417" stop-color="#e4c878"/>
<stop offset="0.8762" stop-color="#e6d28e"/>
<stop offset="0.9279" stop-color="#ede2bc"/>
<stop offset="0.9624" stop-color="#f1ecdc"/>
<stop offset="1.0000" stop-color="#f5f4f2"/>
</linearGradient></defs>
<rect x="2186" y="160" width="117" height="1280" fill="url(#cb)"/>
<g shape-rendering="crispEdges"><line x1="311" y1="1375" x2="2173" y2="1375" stroke="#f2ebd2" stroke-width="2" stroke-dasharray="1 2"/><rect x="310" y="1375" width="31" height="1" fill="#f2ebd2"/><line x1="311" y1="1321" x2="2173" y2="1321" stroke="#f2ebd2" stroke-width="2" stroke-dasharray="1 2"/><rect x="310" y="1321" width="31" height="1" fill="#f2ebd2"/><line x1="311" y1="1274" x2="2173" y2="1274" stroke="#f2ebd2" stroke-width="2" stroke-dasharray="1 2"/><rect x="310" y="1274" width="31" height="1" fill="#f2ebd2"/><line x1="311" y1="1232" x2="2173" y2="1232" stroke="#f2ebd2" stroke-width="2" stroke-dasharray="1 2"/><rect x="310" y="1232" width="31" height="1" fill="#f2ebd2"/><line x1="311" y1="1195" x2="2173" y2="1195" stroke="#f2ebd2" stroke-width="2" stroke-dasharray="1 2"/><rect x="310" y="1195" width="64" height="1" fill="#f2ebd2"/><line x1="311" y1="951" x2="2173" y2="951" stroke="#f2ebd2" stroke-width="2" stroke-dasharray="1 2"/><rect x="310" y="951" width="31" height="1" fill="#f2ebd2"/><line x1="311" y1="808" x2="2173" y2="808" stroke="#f2ebd2" stroke-width="2" stroke-dasharray="1 2"/><rect x="310" y="808" width="31" height="1" fill="#f2ebd2"/><line x1="311" y1="706" x2="2173" y2="706" stroke="#f2ebd2" stroke-width="2" stroke-dasharray="1 2"/><rect x="310" y="706" width="31" height="1" fill="#f2ebd2"/><line x1="311" y1="627" x2="2173" y2="627" stroke="#f2ebd2" stroke-width="2" stroke-dasharray="1 2"/><rect x="310" y="627" width="31" height="1" fill="#f2ebd2"/><line x1="311" y1="563" x2="2173" y2="563" stroke="#f2ebd2" stroke-width="2" stroke-dasharray="1 2"/><rect x="310" y="563" width="31" height="1" fill="#f2ebd2"/><line x1="311" y1="509" x2="2173" y2="509" stroke="#f2ebd2" stroke-width="2" stroke-dasharray="1 2"/><rect x="310" y="509" width="31" height="1" fill="#f2ebd2"/><line x1="311" y1="462" x2="2173" y2="462" stroke="#f2ebd2" stroke-width="2" stroke-dasharray="1 2"/><rect x="310" y="462" width="31" height="1" fill="#f2ebd2"/><line x1="311" y1="420" x2="2173" y2="420" stroke="#f2ebd2" stroke-width="2" stroke-dasharray="1 2"/><rect x="310" y="420" width="31" height="1" fill="#f2ebd2"/><line x1="311" y1="383" x2="2173" y2="383" stroke="#f2ebd2" stroke-width="2" stroke-dasharray="1 2"/><rect x="310" y="383" width="64" height="1" fill="#f2ebd2"/><line x1="446" y1="160" x2="446" y2="1440" stroke="#f2ebd2" stroke-width="2" stroke-dasharray="1 2"/><line x1="674" y1="160" x2="674" y2="1440" stroke="#f2ebd2" stroke-width="2" stroke-dasharray="1 2"/><line x1="901" y1="160" x2="901" y2="1440" stroke="#f2ebd2" stroke-width="2" stroke-dasharray="1 2"/><line x1="1128" y1="160" x2="1128" y2="1440" stroke="#f2ebd2" stroke-width="2" stroke-dasharray="1 2"/><line x1="1355" y1="160" x2="1355" y2="1440" stroke="#f2ebd2" stroke-width="2" stroke-dasharray="1 2"/><line x1="1583" y1="160" x2="1583" y2="1440" stroke="#f2ebd2" stroke-width="2" stroke-dasharray="1 2"/><line x1="1810" y1="160" x2="1810" y2="1440" stroke="#f2ebd2" stroke-width="2" stroke-dasharray="1 2"/><line x1="2037" y1="160" x2="2037" y2="1440" stroke="#f2ebd2" stroke-width="2" stroke-dasharray="1 2"/><rect x="355" y="1422" width="1" height="18" fill="#f2ebd2"/><rect x="401" y="1422" width="1" height="18" fill="#f2ebd2"/><rect x="446" y="1405" width="1" height="35" fill="#f2ebd2"/><rect x="492" y="1422" width="1" height="18" fill="#f2ebd2"/><rect x="537" y="1422" width="1" height="18" fill="#f2ebd2"/><rect x="583" y="1422" width="1" height="18" fill="#f2ebd2"/><rect x="628" y="1422" width="1" height="18" fill="#f2ebd2"/><rect x="674" y="1405" width="1" height="35" fill="#f2ebd2"/><rect x="719" y="1422" width="1" height="18" fill="#f2ebd2"/><rect x="764" y="1422" width="1" height="18" fill="#f2ebd2"/><rect x="810" y="1422" width="1" height="18" fill="#f2ebd2"/><rect x="855" y="1422" width="1" height="18" fill="#f2ebd2"/><rect x="901" y="1405" width="1" height="35" fill="#f2ebd2"/><rect x="946" y="1422" width="1" height="18" fill="#f2ebd2"/><rect x="992" y="1422" width="1" height="18" fill="#f2ebd2"/><rect x="1037" y="1422" width="1" height="18" fill="#f2ebd2"/><rect x="1083" y="1422" width="1" height="18" fill="#f2ebd2"/><rect x="1128" y="1405" width="1" height="35" fill="#f2ebd2"/><rect x="1174" y="1422" width="1" height="18" fill="#f2ebd2"/><rect x="1219" y="1422" width="1" height="18" fill="#f2ebd2"/><rect x="1264" y="1422" width="1" height="18" fill="#f2ebd2"/><rect x="1310" y="1422" width="1" height="18" fill="#f2ebd2"/><rect x="1355" y="1405" width="1" height="35" fill="#f2ebd2"/><rect x="1401" y="1422" width="1" height="18" fill="#f2ebd2"/><rect x="1446" y="1422" width="1" height="18" fill="#f2ebd2"/><rect x="1492" y="1422" width="1" height="18" fill="#f2ebd2"/><rect x="1537" y="1422" width="1" height="18" fill="#f2ebd2"/><rect x="1583" y="1405" width="1" height="35" fill="#f2ebd2"/><rect x="1628" y="1422" width="1" height="18" fill="#f2ebd2"/><rect x="1673" y="1422" width="1" height="18" fill="#f2ebd2"/><rect x="1719" y="1422" width="1" height="18" fill="#f2ebd2"/><rect x="1764" y="1422" width="1" height="18" fill="#f2ebd2"/><rect x="1810" y="1405" width="1" height="35" fill="#f2ebd2"/><rect x="1855" y="1422" width="1" height="18" fill="#f2ebd2"/><rect x="1901" y="1422" width="1" height="18" fill="#f2ebd2"/><rect x="1946" y="1422" width="1" height="18" fill="#f2ebd2"/><rect x="1992" y="1422" width="1" height="18" fill="#f2ebd2"/><rect x="2037" y="1405" width="1" height="35" fill="#f2ebd2"/><rect x="2083" y="1422" width="1" height="18" fill="#f2ebd2"/><rect x="2128" y="1422" width="1" height="18" fill="#f2ebd2"/><rect x="2173" y="1422" width="1" height="18" fill="#f2ebd2"/><rect x="310" y="160" width="1" height="1281" fill="#ede6cc"/><rect x="310" y="1440" width="1864" height="1" fill="#ede6cc"/></g>
<g shape-rendering="crispEdges"><rect x="2241" y="252" width="62" height="1" fill="#000"/><text x="2315.5" y="269.9" font-size="52.7">0.4</text><rect x="2241" y="472" width="62" height="1" fill="#000"/><text x="2315.5" y="490.2" font-size="52.7">0.3</text><rect x="2241" y="693" width="62" height="1" fill="#000"/><text x="2315.5" y="710.5" font-size="52.7">0.2</text><rect x="2241" y="913" width="62" height="1" fill="#000"/><text x="2315.5" y="930.8" font-size="52.7">0.1</text><rect x="2241" y="1133" width="62" height="1" fill="#000"/><text x="2315.5" y="1151.1" font-size="52.7">0</text><rect x="2241" y="1354" width="62" height="1" fill="#000"/><text x="2315.5" y="1371.4" font-size="52.7"><tspan dy="3.5">−</tspan><tspan dy="-3.5" dx="-2">0.1</tspan></text></g>
<text class="s" x="947.5" y="81" font-size="85">ξ</text>
<text x="987" y="79" font-size="80" textLength="21.5" lengthAdjust="spacingAndGlyphs">(</text>
<text class="s" x="1008" y="79" font-size="82">δ</text>
<text x="1067" y="79" font-size="80" textLength="570" lengthAdjust="spacingAndGlyphs">t, f), Q = 38.0731</text>
<text x="446.6" y="1492" font-size="52.7" text-anchor="middle">49.66</text>
<text x="673.9" y="1492" font-size="52.7" text-anchor="middle">49.665</text>
<text x="901.2" y="1492" font-size="52.7" text-anchor="middle">49.67</text>
<text x="1128.5" y="1492" font-size="52.7" text-anchor="middle">49.675</text>
<text x="1355.8" y="1492" font-size="52.7" text-anchor="middle">49.68</text>
<text x="1583.1" y="1492" font-size="52.7" text-anchor="middle">49.685</text>
<text x="1810.4" y="1492" font-size="52.7" text-anchor="middle">49.69</text>
<text x="2037.7" y="1492" font-size="52.7" text-anchor="middle">49.695</text>
<text x="2178.5" y="1542.5" font-size="53.5" textLength="624" lengthAdjust="spacingAndGlyphs" text-anchor="end">Time delay: t(L1) - t(H1) [s]</text>
<text x="292.5" y="406.2" font-size="53" text-anchor="end">10<tspan font-size="34.5" dy="-23" dx="-3.2">3</tspan></text>
<text x="292.5" y="586.3" font-size="53" text-anchor="end">6<tspan font-size="60.3" dx="-4.4" dy="2.7">×</tspan><tspan dx="-3" dy="-2.7">10</tspan><tspan font-size="34.5" dy="-23" dx="-3.2">2</tspan></text>
<text x="292.5" y="650.6" font-size="53" text-anchor="end">5<tspan font-size="60.3" dx="-4.4" dy="2.7">×</tspan><tspan dx="-3" dy="-2.7">10</tspan><tspan font-size="34.5" dy="-23" dx="-3.2">2</tspan></text>
<text x="292.5" y="729.3" font-size="53" text-anchor="end">4<tspan font-size="60.3" dx="-4.4" dy="2.7">×</tspan><tspan dx="-3" dy="-2.7">10</tspan><tspan font-size="34.5" dy="-23" dx="-3.2">2</tspan></text>
<text x="292.5" y="830.8" font-size="53" text-anchor="end">3<tspan font-size="60.3" dx="-4.4" dy="2.7">×</tspan><tspan dx="-3" dy="-2.7">10</tspan><tspan font-size="34.5" dy="-23" dx="-3.2">2</tspan></text>
<text x="292.5" y="973.8" font-size="53" text-anchor="end">2<tspan font-size="60.3" dx="-4.4" dy="2.7">×</tspan><tspan dx="-3" dy="-2.7">10</tspan><tspan font-size="34.5" dy="-23" dx="-3.2">2</tspan></text>
<text x="292.5" y="1218.2" font-size="53" text-anchor="end">10<tspan font-size="34.5" dy="-23" dx="-3.2">2</tspan></text>
<text x="292" y="1339.1" font-size="52.7" text-anchor="end">70</text>
<text x="292" y="1393.4" font-size="52.7" text-anchor="end">60</text>
<text transform="translate(158,156.3) rotate(-90)" font-size="53.6" textLength="354.6" lengthAdjust="spacingAndGlyphs" text-anchor="end">Frequency [Hz]</text>
<text transform="translate(2464,160) rotate(-90)" font-size="54" textLength="438.5" lengthAdjust="spacingAndGlyphs" text-anchor="end">Cross-correlation <tspan class="s">ξ</tspan></text>
</svg></body></html>
